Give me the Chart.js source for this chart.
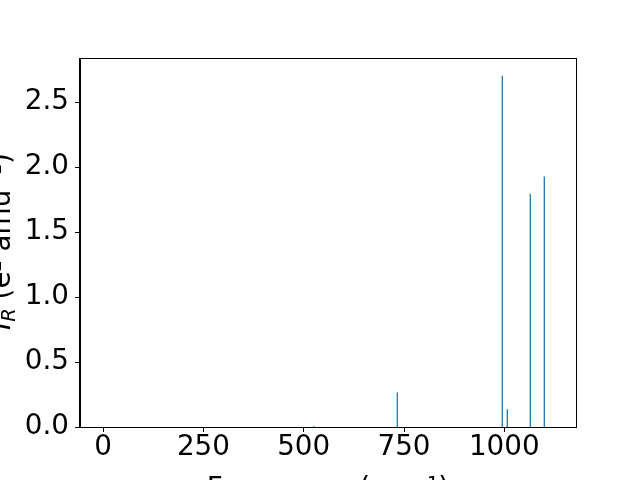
<!DOCTYPE html>
<html>
<head>
<meta charset="utf-8">
<script src="https://cdn.jsdelivr.net/npm/chart.js@4"></script>
<style>
  html, body { margin: 0; padding: 0; background: #fff; overflow: hidden; }
  canvas { display: block; }
</style>
</head>
<body>
<canvas id="spectrum" width="640" height="480"></canvas>
<script>
// IR stick spectrum: frequencies (cm^-1) and intensities
const freqs = [525.7, 733.3, 995.0, 1007.5, 1064.8, 1099.7];
const intensities = [0.008, 0.266, 2.704, 0.136, 1.795, 1.928];
const xTickVals = [0, 250, 500, 750, 1000];
const yTickVals = [0.0, 0.5, 1.0, 1.5, 2.0, 2.5];
const yLabelParts = ['I', 'R', ' (e² amu⁻¹)'];

const C0 = '#1f77b4';
const FS = 27.8;
const tickFont = { family: 'DejaVu Sans', size: FS, lineHeight: 1 };
const titleFont = { family: 'DejaVu Sans', size: FS, lineHeight: 1.2 };

// one little line dataset per stick
const sticks = freqs.map((f, i) => ({
    data: [{ x: f, y: 0 }, { x: f, y: intensities[i] }],
    borderColor: C0,
    borderWidth: 1.3,
    pointRadius: 0,
    fill: false,
    tension: 0
}));

// matplotlib style box around the axes + the y label with math subscript
const frame = {
    id: 'frame',
    afterDraw(chart) {
        const { ctx, chartArea: a } = chart;
        ctx.save();
        ctx.strokeStyle = '#000';
        ctx.lineWidth = 1;
        ctx.strokeRect(Math.round(a.left) - 0.5, Math.round(a.top) + 0.5,
            Math.round(a.right - a.left) + 1, Math.round(a.bottom - a.top));
        ctx.restore();

        // y axis label: italic I, subscript R, then units
        const [iTxt, rTxt, rest] = yLabelParts;
        const big = `italic ${FS}px "DejaVu Sans"`;
        const small = `italic ${FS * 0.7}px "DejaVu Sans"`;
        const norm = `${FS}px "DejaVu Sans"`;
        ctx.save();
        ctx.font = big; const w1 = ctx.measureText(iTxt).width;
        ctx.font = small; const w2 = ctx.measureText(rTxt).width;
        ctx.font = norm; const w3 = ctx.measureText(rest).width;
        const total = w1 + w2 + w3;
        ctx.translate(9.5, (a.top + a.bottom) / 2 - 1);
        ctx.rotate(-Math.PI / 2);
        ctx.fillStyle = '#000';
        ctx.textBaseline = 'alphabetic';
        ctx.textAlign = 'left';
        let x = -total / 2;
        ctx.font = big; ctx.fillText(iTxt, x, 0); x += w1;
        ctx.font = small; ctx.fillText(rTxt, x, FS * 0.2); x += w2;
        ctx.font = norm; ctx.fillText(rest, x, 0);
        ctx.restore();
    }
};

new Chart(document.getElementById('spectrum').getContext('2d'), {
    type: 'line',
    data: { datasets: sticks },
    plugins: [frame],
    options: {
        responsive: false,
        animation: false,
        layout: { padding: { top: 58, right: 64, left: 0, bottom: 0 } },
        plugins: { legend: { display: false }, tooltip: { enabled: false } },
        scales: {
            x: {
                type: 'linear',
                min: -57.6,
                max: 1178.7,
                afterFit: s => { s.height = 53; },
                afterBuildTicks: s => { s.ticks = xTickVals.map(v => ({ value: v })); },
                grid: { drawOnChartArea: false, tickLength: 5, tickColor: '#000', tickWidth: 1 },
                border: { color: '#000', width: 1 },
                ticks: {
                    color: '#000', font: tickFont, padding: 2,
                    maxRotation: 0, autoSkip: false,
                    callback: v => String(v)
                },
                title: {
                    display: true,
                    text: 'Frequency (cm⁻¹)',
                    color: '#000',
                    font: titleFont,
                    padding: { top: 0, bottom: -26 }
                }
            },
            y: {
                min: 0,
                max: 2.84,
                afterFit: s => { s.width = 80; },
                afterBuildTicks: s => { s.ticks = yTickVals.map(v => ({ value: v })); },
                grid: { drawOnChartArea: false, tickLength: 5, tickColor: '#000', tickWidth: 1 },
                border: { color: '#000', width: 1 },
                ticks: {
                    color: '#000', font: tickFont, padding: 6,
                    callback: v => v.toFixed(1)
                }
            }
        }
    }
});
</script>
</body>
</html>
